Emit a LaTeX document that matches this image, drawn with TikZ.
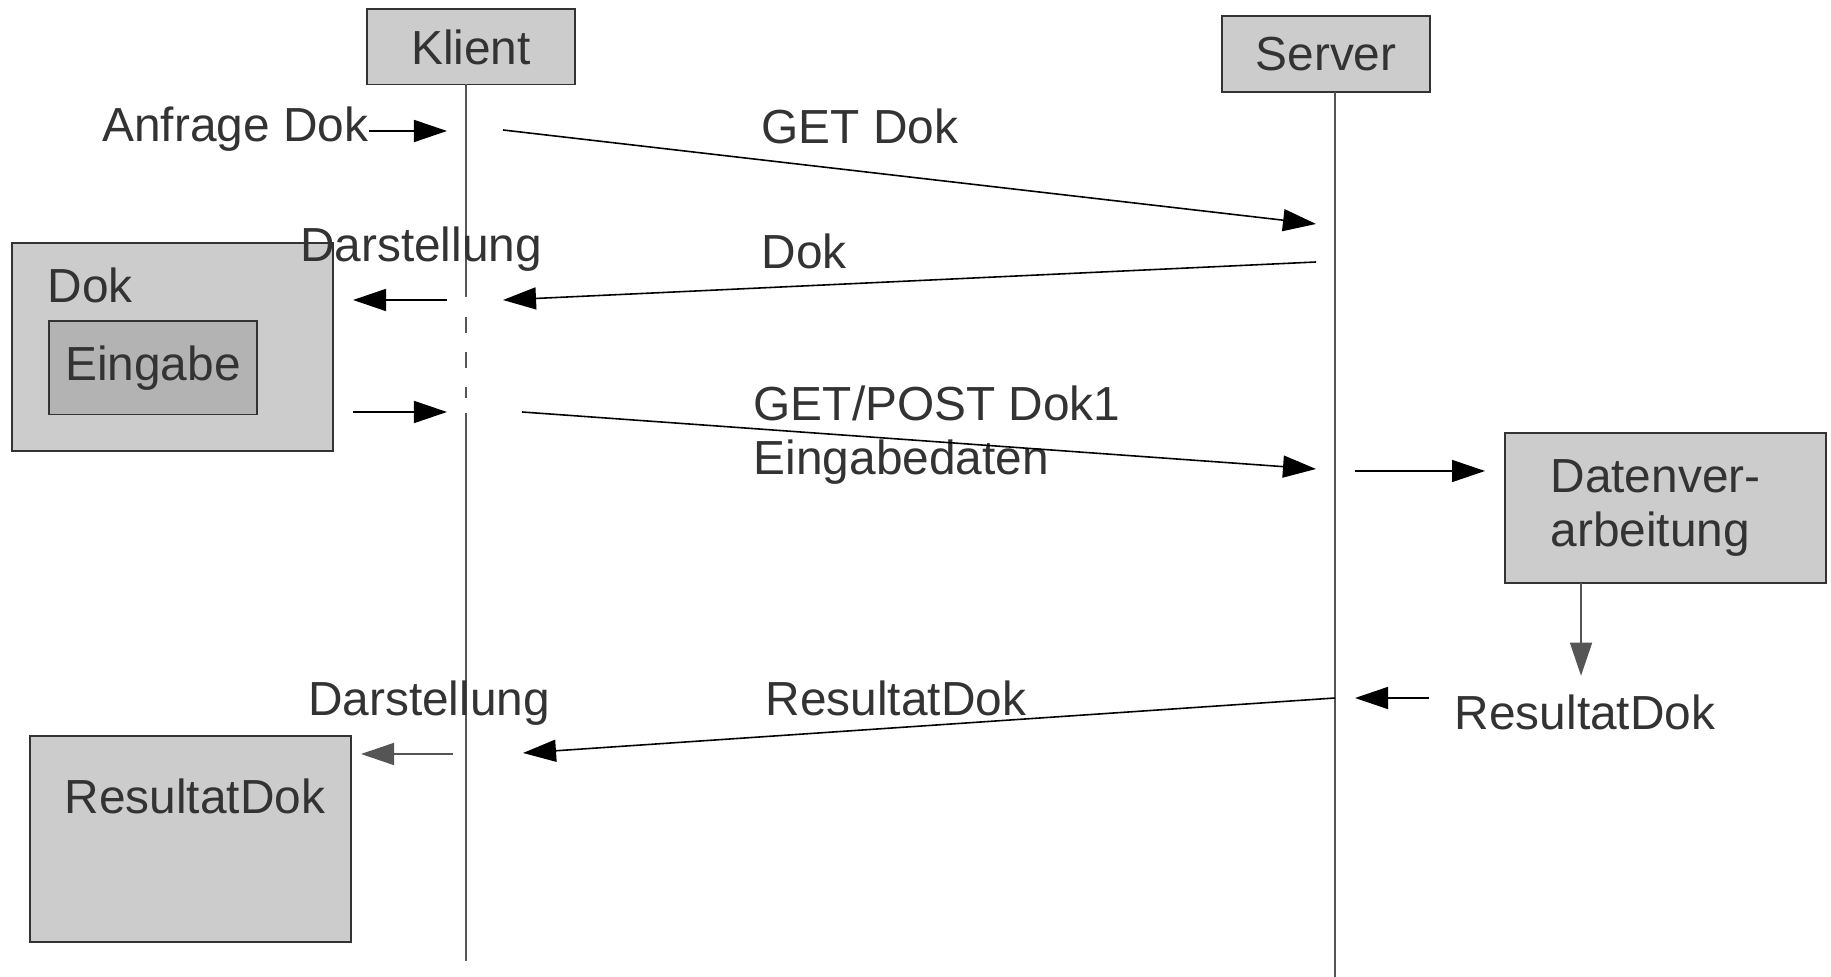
\documentclass[tikz,border=0pt]{standalone}
\usepackage{fontspec}
\setmainfont{Liberation Sans}
\usetikzlibrary{arrows.meta}

\definecolor{boxgray}{HTML}{CCCCCC}
\definecolor{innergray}{HTML}{B3B3B3}
\definecolor{txtgray}{HTML}{333333}
\definecolor{linegray}{HTML}{555555}

\tikzset{
    box/.style={draw=txtgray, fill=boxgray, line width=0.55pt, inner sep=0pt, text=txtgray,
        font=\fontsize{13.6}{15.5}\selectfont},
    lbl/.style={text=txtgray, inner sep=0pt, font=\fontsize{13.6}{15.5}\selectfont},
    msg/.style={-{Triangle[length=0.33cm,width=0.22cm]}, line width=0.45pt},
    life/.style={draw=linegray, line width=0.5pt},
}

\begin{document}
\begin{tikzpicture}[x=0.01cm, y=-0.01cm]
    \useasboundingbox (0,0) rectangle (1831,977);

    % Akteure
    \node[box, minimum width=2.07cm, minimum height=0.75cm] (klient) at (471,47) {Klient};
    \node[box, minimum width=2.08cm, minimum height=0.76cm] (server) at (1326,54) {Server};

    % Lebenslinien
    \draw[life] (466,84) -- (466,297);
    \draw[life, dash pattern=on 0.16cm off 0.19cm] (466,317) -- (466,398);
    \draw[life] (466,413) -- (466,961);
    \draw[life] (1335,92) -- (1335,977);

    % Dokument beim Klienten
    \node[box, minimum width=3.21cm, minimum height=2.08cm] (dok) at (172.5,347) {};
    \node[lbl, anchor=west] (doklbl) at (47,285) {Dok};
    \node[box, fill=innergray, minimum width=2.08cm, minimum height=0.93cm] (eingabe) at (153,368) {Eingabe};

    % Verarbeitung beim Server
    \node[box, align=left, minimum width=3.21cm, minimum height=1.50cm] (dv) at (1665.5,508)
        {\hspace*{-0.2cm}Datenver-\\\hspace*{-0.2cm}arbeitung};
    \node[lbl] (rsr) at (1585,712) {ResultatDok};

    % Ergebnis
    \node[box, minimum width=3.21cm, minimum height=2.06cm] (res) at (190.5,839) {};
    \node[lbl] (reslbl) at (195,796) {ResultatDok};

    % Beschriftungen
    \node[lbl, anchor=east] (anfrage) at (369,129) {Anfrage Dok};
    \node[lbl, anchor=west] (getlbl) at (761,126) {GET Dok};
    \node[lbl, anchor=west] (doklbl2) at (761,251) {Dok};
    \node[lbl] (darst1) at (421,249) {Darstellung};
    \node[lbl, anchor=west, align=left] (postlbl) at (753,435) {GET/POST Dok1\\Eingabedaten};
    \node[lbl, anchor=west] (reslbl2) at (765,698) {ResultatDok};
    \node[lbl] (darst2) at (429,703) {Darstellung};

    % Endpunkte der Nachrichten
    \coordinate (kA) at (447,131);
    \coordinate (kB) at (503,130);
    \coordinate (sB) at (1316,224);
    \coordinate (sC) at (1316,262);
    \coordinate (kC) at (503,300);
    \coordinate (kD) at (447,300);
    \coordinate (dD) at (353,300);
    \coordinate (dE) at (353,412);
    \coordinate (kE) at (447,412);
    \coordinate (kF) at (522,412);
    \coordinate (sF) at (1316,469);
    \coordinate (sG) at (1355,471);
    \coordinate (vG) at (1485,471);
    \coordinate (rH) at (1429,698);
    \coordinate (sH) at (1355,698);
    \coordinate (sI) at (1335,698);
    \coordinate (kI) at (523,753);
    \coordinate (kJ) at (453,754);
    \coordinate (rJ) at (361,754);

    % Nachrichten
    \draw[msg] (anfrage.east |- kA) -- (kA);
    \draw[msg] (kB) -- (sB);
    \draw[msg] (sC) -- (kC);
    \draw[msg] (kD) -- (dD);
    \draw[msg] (dE) -- (kE);
    \draw[msg] (kF) -- (sF);
    \draw[msg] (sG) -- (vG);
    \draw[msg, draw=linegray] (1581,583) -- ([yshift=0.18cm]rsr.north -| 1581,0);
    \draw[msg] (rH) -- (sH);
    \draw[msg] (sI) -- (kI);
    \draw[msg, draw=linegray] (kJ) -- (rJ);
\end{tikzpicture}
\end{document}
